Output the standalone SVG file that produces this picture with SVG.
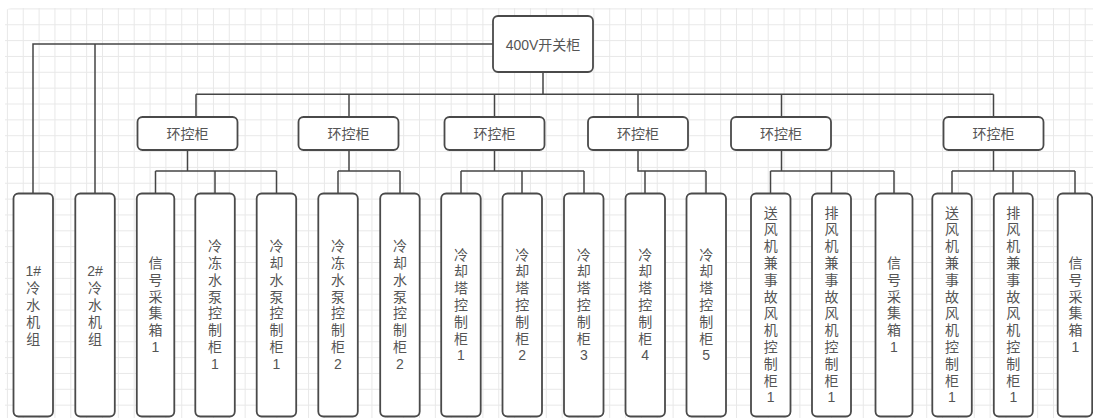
<svg xmlns="http://www.w3.org/2000/svg" width="1093" height="418" viewBox="0 0 1093 418">
  <defs>
    <pattern id="grid" x="6.9" y="8.4" width="15.85" height="15.85" patternUnits="userSpaceOnUse">
      <path d="M0,0.5 H15.85 M0.5,0 V15.85" fill="none" stroke="#e8e8e8" stroke-width="1"/>
    </pattern>
    <style>
      .box { fill: #ffffff; stroke: #4a4a4a; stroke-width: 1.8; }
      .lbl { font-family: "Liberation Sans", "Noto Sans CJK SC", sans-serif; font-size: 14px; fill: #555555; text-anchor: middle; dominant-baseline: central; }
      .conn { fill: none; stroke: #454545; stroke-width: 1.5; }
    </style>
  </defs>
  <rect x="0" y="0" width="1093" height="418" fill="#ffffff"/>
  <rect x="5" y="8" width="1100" height="420" rx="6" fill="url(#grid)"/>

  <g id="connectors" class="conn">
    <path d="M493,44 H33 V193.5"/>
    <path d="M95,44 V193.5"/>
    <path d="M543,72 V94.3"/>
    <path d="M196,94.3 H993.5"/>
    <path d="M196,94.3 V117 M349,94.3 V117 M494.5,94.3 V117 M638,94.3 V117 M781.5,94.3 V117 M993.5,94.3 V117"/>
    <path d="M187.5,150 V171 M155.5,171 H276.5 M155.5,171 V193.5 M215,171 V193.5 M276.5,171 V193.5"/>
    <path d="M349,150 V171 M338,171 H400 M338,171 V193.5 M400,171 V193.5"/>
    <path d="M494.5,150 V171 M461,171 H584 M461,171 V193.5 M522,171 V193.5 M584,171 V193.5"/>
    <path d="M638,150 V171 H706 M645,171 V193.5 M706,171 V193.5"/>
    <path d="M781.5,150 V171 M770.5,171 H894 M770.5,171 V193.5 M831.5,171 V193.5 M894,171 V193.5"/>
    <path d="M993.5,150 V171 M952,171 H1075 M952,171 V193.5 M1013,171 V193.5 M1075,171 V193.5"/>
  </g>

  <g id="n-400v">
    <rect class="box" x="493" y="16" width="100" height="56" rx="5"/>
    <text class="lbl" x="543" y="44.5">400V开关柜</text>
  </g>

  <g id="hk1"><rect class="box" x="137.5" y="117" width="100" height="33" rx="5"/><text class="lbl" x="187.5" y="133.5">环控柜</text></g>
  <g id="hk2"><rect class="box" x="298.5" y="117" width="100" height="33" rx="5"/><text class="lbl" x="348.5" y="133.5">环控柜</text></g>
  <g id="hk3"><rect class="box" x="444.5" y="117" width="100" height="33" rx="5"/><text class="lbl" x="494.5" y="133.5">环控柜</text></g>
  <g id="hk4"><rect class="box" x="588" y="117" width="100" height="33" rx="5"/><text class="lbl" x="638" y="133.5">环控柜</text></g>
  <g id="hk5"><rect class="box" x="731" y="117" width="100" height="33" rx="5"/><text class="lbl" x="781" y="133.5">环控柜</text></g>
  <g id="hk6"><rect class="box" x="943.5" y="117" width="100" height="33" rx="5"/><text class="lbl" x="993.5" y="133.5">环控柜</text></g>

  <g id="c1"><rect class="box" x="13.5" y="193.5" width="39.5" height="223" rx="5"/>
    <text class="lbl"><tspan x="33.3" y="271.4">1#</tspan><tspan x="33.3" y="288.2">冷</tspan><tspan x="33.3" y="305">水</tspan><tspan x="33.3" y="321.8">机</tspan><tspan x="33.3" y="338.6">组</tspan></text></g>
  <g id="c2"><rect class="box" x="75.3" y="193.5" width="39.5" height="223" rx="5"/>
    <text class="lbl"><tspan x="95" y="271.4">2#</tspan><tspan x="95" y="288.2">冷</tspan><tspan x="95" y="305">水</tspan><tspan x="95" y="321.8">机</tspan><tspan x="95" y="338.6">组</tspan></text></g>
  <g id="c3"><rect class="box" x="136.8" y="193.5" width="37.5" height="223" rx="5"/>
    <text class="lbl"><tspan x="155.5" y="263">信</tspan><tspan x="155.5" y="279.8">号</tspan><tspan x="155.5" y="296.6">采</tspan><tspan x="155.5" y="313.4">集</tspan><tspan x="155.5" y="330.2">箱</tspan><tspan x="155.5" y="347">1</tspan></text></g>
  <g id="c4"><rect class="box" x="195.3" y="193.5" width="39.5" height="223" rx="5"/>
    <text class="lbl"><tspan x="215" y="246.2">冷</tspan><tspan x="215" y="263">冻</tspan><tspan x="215" y="279.8">水</tspan><tspan x="215" y="296.6">泵</tspan><tspan x="215" y="313.4">控</tspan><tspan x="215" y="330.2">制</tspan><tspan x="215" y="347">柜</tspan><tspan x="215" y="363.8">1</tspan></text></g>
  <g id="c5"><rect class="box" x="256.7" y="193.5" width="39.5" height="223" rx="5"/>
    <text class="lbl"><tspan x="276.4" y="246.2">冷</tspan><tspan x="276.4" y="263">却</tspan><tspan x="276.4" y="279.8">水</tspan><tspan x="276.4" y="296.6">泵</tspan><tspan x="276.4" y="313.4">控</tspan><tspan x="276.4" y="330.2">制</tspan><tspan x="276.4" y="347">柜</tspan><tspan x="276.4" y="363.8">1</tspan></text></g>
  <g id="c6"><rect class="box" x="318.3" y="193.5" width="39.5" height="223" rx="5"/>
    <text class="lbl"><tspan x="338" y="246.2">冷</tspan><tspan x="338" y="263">冻</tspan><tspan x="338" y="279.8">水</tspan><tspan x="338" y="296.6">泵</tspan><tspan x="338" y="313.4">控</tspan><tspan x="338" y="330.2">制</tspan><tspan x="338" y="347">柜</tspan><tspan x="338" y="363.8">2</tspan></text></g>
  <g id="c7"><rect class="box" x="380.2" y="193.5" width="39.5" height="223" rx="5"/>
    <text class="lbl"><tspan x="400" y="246.2">冷</tspan><tspan x="400" y="263">却</tspan><tspan x="400" y="279.8">水</tspan><tspan x="400" y="296.6">泵</tspan><tspan x="400" y="313.4">控</tspan><tspan x="400" y="330.2">制</tspan><tspan x="400" y="347">柜</tspan><tspan x="400" y="363.8">2</tspan></text></g>
  <g id="c8"><rect class="box" x="441.2" y="193.5" width="39.5" height="223" rx="5"/>
    <text class="lbl"><tspan x="461" y="254.6">冷</tspan><tspan x="461" y="271.4">却</tspan><tspan x="461" y="288.2">塔</tspan><tspan x="461" y="305">控</tspan><tspan x="461" y="321.8">制</tspan><tspan x="461" y="338.6">柜</tspan><tspan x="461" y="355.4">1</tspan></text></g>
  <g id="c9"><rect class="box" x="502.5" y="193.5" width="39.5" height="223" rx="5"/>
    <text class="lbl"><tspan x="522.2" y="254.6">冷</tspan><tspan x="522.2" y="271.4">却</tspan><tspan x="522.2" y="288.2">塔</tspan><tspan x="522.2" y="305">控</tspan><tspan x="522.2" y="321.8">制</tspan><tspan x="522.2" y="338.6">柜</tspan><tspan x="522.2" y="355.4">2</tspan></text></g>
  <g id="c10"><rect class="box" x="564" y="193.5" width="39.5" height="223" rx="5"/>
    <text class="lbl"><tspan x="583.8" y="254.6">冷</tspan><tspan x="583.8" y="271.4">却</tspan><tspan x="583.8" y="288.2">塔</tspan><tspan x="583.8" y="305">控</tspan><tspan x="583.8" y="321.8">制</tspan><tspan x="583.8" y="338.6">柜</tspan><tspan x="583.8" y="355.4">3</tspan></text></g>
  <g id="c11"><rect class="box" x="625.5" y="193.5" width="39.5" height="223" rx="5"/>
    <text class="lbl"><tspan x="645.2" y="254.6">冷</tspan><tspan x="645.2" y="271.4">却</tspan><tspan x="645.2" y="288.2">塔</tspan><tspan x="645.2" y="305">控</tspan><tspan x="645.2" y="321.8">制</tspan><tspan x="645.2" y="338.6">柜</tspan><tspan x="645.2" y="355.4">4</tspan></text></g>
  <g id="c12"><rect class="box" x="686.5" y="193.5" width="39.5" height="223" rx="5"/>
    <text class="lbl"><tspan x="706.2" y="254.6">冷</tspan><tspan x="706.2" y="271.4">却</tspan><tspan x="706.2" y="288.2">塔</tspan><tspan x="706.2" y="305">控</tspan><tspan x="706.2" y="321.8">制</tspan><tspan x="706.2" y="338.6">柜</tspan><tspan x="706.2" y="355.4">5</tspan></text></g>
  <g id="c13"><rect class="box" x="751" y="193.5" width="39.5" height="223" rx="5"/>
    <text class="lbl"><tspan x="770.7" y="212.6">送</tspan><tspan x="770.7" y="229.4">风</tspan><tspan x="770.7" y="246.2">机</tspan><tspan x="770.7" y="263">兼</tspan><tspan x="770.7" y="279.8">事</tspan><tspan x="770.7" y="296.6">故</tspan><tspan x="770.7" y="313.4">风</tspan><tspan x="770.7" y="330.2">机</tspan><tspan x="770.7" y="347">控</tspan><tspan x="770.7" y="363.8">制</tspan><tspan x="770.7" y="380.6">柜</tspan><tspan x="770.7" y="397.4">1</tspan></text></g>
  <g id="c14"><rect class="box" x="812" y="193.5" width="39" height="223" rx="5"/>
    <text class="lbl"><tspan x="831.5" y="212.6">排</tspan><tspan x="831.5" y="229.4">风</tspan><tspan x="831.5" y="246.2">机</tspan><tspan x="831.5" y="263">兼</tspan><tspan x="831.5" y="279.8">事</tspan><tspan x="831.5" y="296.6">故</tspan><tspan x="831.5" y="313.4">风</tspan><tspan x="831.5" y="330.2">机</tspan><tspan x="831.5" y="347">控</tspan><tspan x="831.5" y="363.8">制</tspan><tspan x="831.5" y="380.6">柜</tspan><tspan x="831.5" y="397.4">1</tspan></text></g>
  <g id="c15"><rect class="box" x="875.5" y="193.5" width="37" height="223" rx="5"/>
    <text class="lbl"><tspan x="894" y="263">信</tspan><tspan x="894" y="279.8">号</tspan><tspan x="894" y="296.6">采</tspan><tspan x="894" y="313.4">集</tspan><tspan x="894" y="330.2">箱</tspan><tspan x="894" y="347">1</tspan></text></g>
  <g id="c16"><rect class="box" x="932.3" y="193.5" width="39.5" height="223" rx="5"/>
    <text class="lbl"><tspan x="952" y="212.6">送</tspan><tspan x="952" y="229.4">风</tspan><tspan x="952" y="246.2">机</tspan><tspan x="952" y="263">兼</tspan><tspan x="952" y="279.8">事</tspan><tspan x="952" y="296.6">故</tspan><tspan x="952" y="313.4">风</tspan><tspan x="952" y="330.2">机</tspan><tspan x="952" y="347">控</tspan><tspan x="952" y="363.8">制</tspan><tspan x="952" y="380.6">柜</tspan><tspan x="952" y="397.4">1</tspan></text></g>
  <g id="c17"><rect class="box" x="993.8" y="193.5" width="39" height="223" rx="5"/>
    <text class="lbl"><tspan x="1013.3" y="212.6">排</tspan><tspan x="1013.3" y="229.4">风</tspan><tspan x="1013.3" y="246.2">机</tspan><tspan x="1013.3" y="263">兼</tspan><tspan x="1013.3" y="279.8">事</tspan><tspan x="1013.3" y="296.6">故</tspan><tspan x="1013.3" y="313.4">风</tspan><tspan x="1013.3" y="330.2">机</tspan><tspan x="1013.3" y="347">控</tspan><tspan x="1013.3" y="363.8">制</tspan><tspan x="1013.3" y="380.6">柜</tspan><tspan x="1013.3" y="397.4">1</tspan></text></g>
  <g id="c18"><rect class="box" x="1057.7" y="193.5" width="34.5" height="223" rx="5"/>
    <text class="lbl"><tspan x="1075.5" y="263">信</tspan><tspan x="1075.5" y="279.8">号</tspan><tspan x="1075.5" y="296.6">采</tspan><tspan x="1075.5" y="313.4">集</tspan><tspan x="1075.5" y="330.2">箱</tspan><tspan x="1075.5" y="347">1</tspan></text></g>
</svg>
